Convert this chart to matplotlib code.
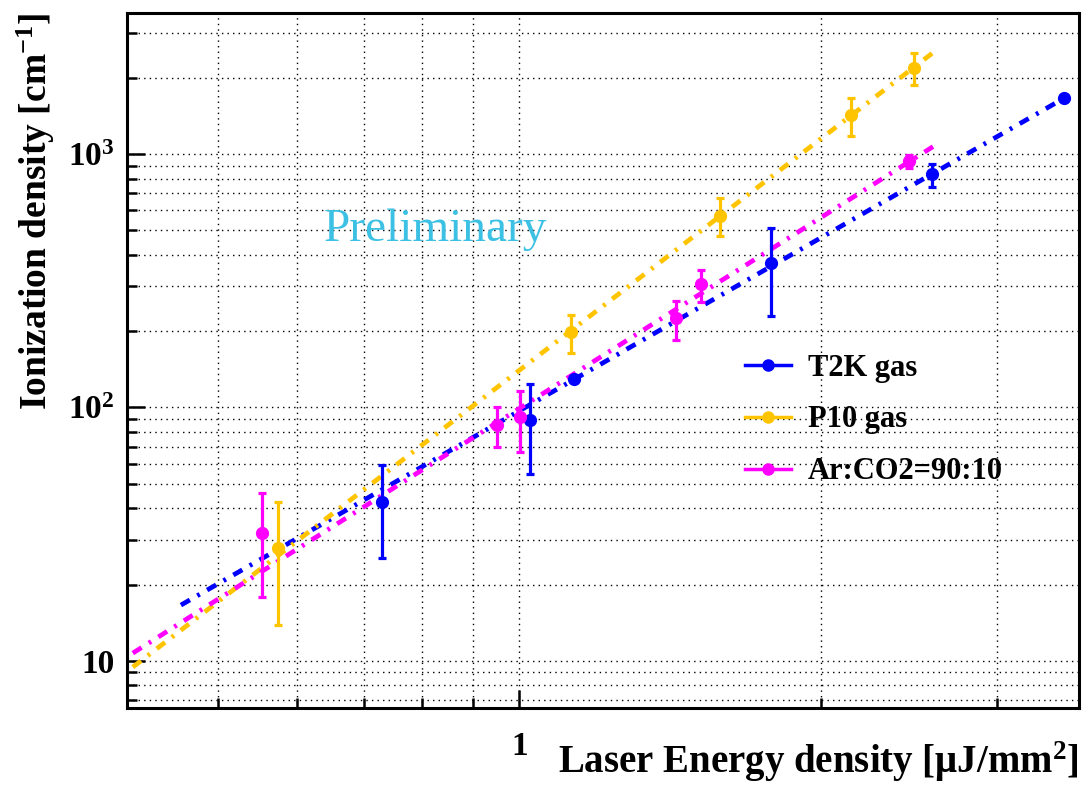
import numpy as np
import matplotlib
matplotlib.use('Agg')
import matplotlib.pyplot as plt
from matplotlib.ticker import LogLocator, FuncFormatter, NullFormatter
from matplotlib.lines import Line2D

plt.rcParams['font.family'] = ['Liberation Serif', 'DejaVu Serif']
plt.rcParams['font.weight'] = 'bold'
plt.rcParams['axes.labelweight'] = 'bold'
plt.rcParams['mathtext.fontset'] = 'custom'
plt.rcParams['mathtext.rm'] = 'Liberation Serif:bold'
plt.rcParams['mathtext.it'] = 'Liberation Serif:bold'
plt.rcParams['mathtext.bf'] = 'Liberation Serif:bold'

# T2K gas
t2k_x = [0.729, 1.026, 1.134, 1.785, 2.585, 3.494]
t2k_y = [42.2, 89.2, 129.1, 370.0, 831.7, 1668.0]
t2k_lo = [25.5, 54.6, 129.1, 230.0, 743.0, 1668.0]
t2k_hi = [59.3, 123.4, 129.1, 512.0, 911.0, 1668.0]
t2k_fit_x = [0.4595, 3.543]
t2k_fit_y = [16.6, 1709.0]

# P10 gas
p10_x = [0.575, 1.126, 1.585, 2.142, 2.476]
p10_y = [27.9, 197.8, 570.8, 1425.0, 2191.0]
p10_lo = [13.8, 163.5, 474.7, 1178.0, 1872.0]
p10_hi = [42.3, 231.6, 668.6, 1668.0, 2497.0]
p10_fit_x = [0.4114, 2.609]
p10_fit_y = [9.45, 2573.0]

# Ar:CO2=90:10
ar_x = [0.554, 0.951, 1.001, 1.435, 1.517, 2.447]
ar_y = [31.9, 85.2, 91.4, 224.7, 306.0, 938.0]
ar_lo = [17.9, 70.0, 66.9, 184.5, 261.3, 881.0]
ar_hi = [46.1, 100.6, 116.4, 263.0, 348.5, 991.0]
ar_fit_x = [0.4114, 2.588]
ar_fit_y = [10.73, 1069.0]

labels = ['T2K gas', 'P10 gas', 'Ar:CO2=90:10']
colors = ['#0000ff', '#ffc400', '#ff00ff']

fig = plt.figure(figsize=(10.84, 7.87), dpi=100)
ax = fig.add_axes([0.1172, 0.1, 0.8782, 0.8839])
ax.set_xscale('log')
ax.set_yscale('log')
ax.set_xlim(0.406, 3.62)
ax.set_ylim(6.5, 3610)

fit_style = (0, (2.2, 1.8, 0.6, 1.8))
series = [
    (t2k_x, t2k_y, t2k_lo, t2k_hi, t2k_fit_x, t2k_fit_y),
    (p10_x, p10_y, p10_lo, p10_hi, p10_fit_x, p10_fit_y),
    (ar_x, ar_y, ar_lo, ar_hi, ar_fit_x, ar_fit_y),
]
for (x, y, lo, hi, fx, fy), c in zip(series, colors):
    ax.plot(fx, fy, color=c, lw=3.4, linestyle=fit_style, zorder=3)
for (x, y, lo, hi, fx, fy), c in zip(series, colors):
    y = np.array(y)
    err = [y - np.array(lo), np.array(hi) - y]
    ax.errorbar(x, y, yerr=err, fmt='o', color=c, ms=8.5, elinewidth=2.3,
                capsize=3, capthick=2.3, zorder=4)

# grid on every tick, ROOT style
ax.xaxis.set_major_locator(LogLocator(base=10))
ax.xaxis.set_minor_locator(LogLocator(base=10, subs=np.arange(2, 10)))
ax.yaxis.set_major_locator(LogLocator(base=10))
ax.yaxis.set_minor_locator(LogLocator(base=10, subs=np.arange(2, 10)))
ax.xaxis.set_minor_formatter(NullFormatter())
ax.yaxis.set_minor_formatter(NullFormatter())


def yfmt(v, pos):
    e = int(round(np.log10(v)))
    if e == 1:
        return '10'
    return '10$^{%d}$' % e


ax.yaxis.set_major_formatter(FuncFormatter(yfmt))
ax.xaxis.set_major_formatter(FuncFormatter(lambda v, p: '%g' % v))
ax.grid(True, which='both', color='black', linestyle=(0, (1, 3)), linewidth=1.0)

ax.tick_params(which='both', direction='in', top=False, right=False, width=1.8)
ax.tick_params(which='major', length=13)
ax.tick_params(which='minor', length=7)
ax.tick_params(axis='x', which='major', pad=16, labelsize=24)
ax.tick_params(axis='y', which='major', pad=9, labelsize=24)
for s in ax.spines.values():
    s.set_linewidth(2.2)

ax.set_xlabel('Laser Energy density [\u03bcJ/mm$^{2}$]', fontsize=28, loc='right')
ax.xaxis.set_label_coords(1.0, -0.045)
ax.set_ylabel('Ionization density [cm$^{-1}$]', fontsize=27, loc='top')
ax.yaxis.set_label_coords(-0.074, 1.0)

ax.text(0.3235, 0.6876, 'Preliminary', transform=ax.transAxes, color='#3cc0e4',
        fontsize=34, fontweight='normal', ha='center', va='center')

handles = [Line2D([0], [0], color=c, lw=2.5, marker='o', ms=8) for c in colors]
ax.legend(handles, labels, loc='center left', bbox_to_anchor=(0.649, 0.4145),
          frameon=False, fontsize=22, handlelength=1.5, handletextpad=0.55,
          labelspacing=0.75, borderpad=0, borderaxespad=0)

fig.savefig('out.png', dpi=100)
